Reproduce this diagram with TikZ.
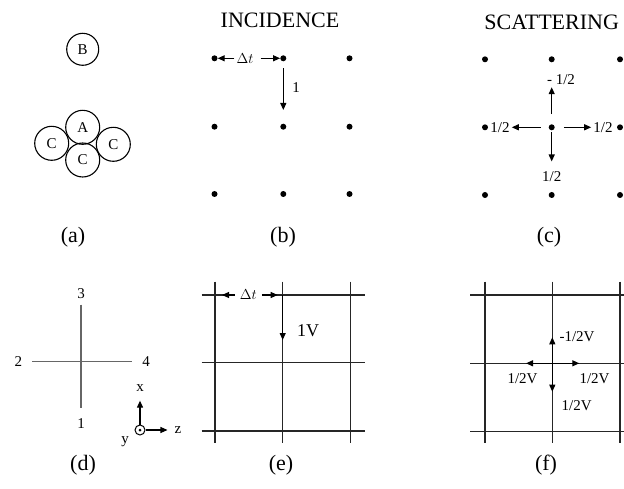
\documentclass[tikz,border=0pt]{standalone}
\usepackage{fontspec}
\setmainfont{Liberation Serif}
\usetikzlibrary{arrows.meta}
\newcommand\fsz[1]{\fontsize{#1}{#1}\selectfont}
\begin{document}
\begin{tikzpicture}[x=1pt,y=-1pt,
    dot/.style={circle,fill,inner sep=0pt,minimum size=6pt},
    atom/.style={circle,draw,line width=1.1pt,minimum size=34pt,inner sep=0pt,font=\fsz{15}},
    arr/.style={-{Triangle[length=7pt,width=6pt]},line width=1.1pt},
    lab/.style={inner sep=2pt,font=\fsz{15}},
    title/.style={font=\fsz{22}},
    panel/.style={font=\fsz{22}},
    gridline/.style={black!85,line width=1.4pt},
    crossline/.style={black!60,line width=1.6pt}]
    \useasboundingbox (0,0) rectangle (624,489);
    % panel captions
    \foreach \n/\x/\y in {a/73/237,b/283/237,c/549/237,d/83/465,e/281/465,f/546/465}
        \node[panel] (p\n) at (\x,\y) {(\n)};
    % (a) atoms
    \node[atom,minimum size=32pt] (B) at (82.7,49.3) {B};
    \node[atom] (A) at (82.7,127.3) {A};
    \node[atom] (Cl) at (51.7,143.3) {C};
    \node[atom] (Cr) at (113.3,144.3) {C};
    \node[atom] (Cb) at (82.7,160) {C};
    % (b) incidence
    \node[title] (tinc) at (280,20) {INCIDENCE};
    \foreach \i/\y in {1/58.3,2/126.7,3/194}
        \foreach \j/\x in {1/214.5,2/283.3,3/349.5}
            \node[dot] (b\i\j) at (\x,\y) {};
    \node[lab] (dtb) at (245,58.3) {$\Delta t$};
    \draw[arr] (dtb) -- (b11);
    \draw[arr,shorten <=5pt] (dtb) -- (b12);
    \coordinate (b1v) at (283.3,110);
    \draw[arr,shorten <=7pt] (b12) -- (b1v);
    \node[lab] (l1b) at (296,88) {1};
    % (c) scattering
    \node[title] (tsca) at (551.7,22.3) {SCATTERING};
    \foreach \i/\y in {1/59.3,2/127.3,3/195}
        \foreach \j/\x in {1/485,2/551.7,3/620}
            \node[dot] (c\i\j) at (\x,\y) {};
    \node[lab] (cu) at (561,80) {- 1/2};
    \node[lab] (cl) at (500,127.3) {1/2};
    \node[lab] (cr) at (603,127.3) {1/2};
    \node[lab] (cd) at (551.7,176.7) {1/2};
    \draw[arr,shorten <=10pt] (c22) -- (c22 |- cu.south);
    \draw[arr,shorten <=8pt] (c22) -- (cl);
    \draw[arr,shorten <=9pt] (c22) -- (cr);
    \draw[arr,shorten <=2pt,shorten >=8pt] (c22) -- (cd);
    % (d) node and axes
    \node[lab] (d3) at (81,293.3) {3};
    \node[lab] (d1) at (81,423.3) {1};
    \node[lab] (d2) at (18.3,361.7) {2};
    \node[lab] (d4) at (146,361.7) {4};
    \draw[crossline,shorten <=4pt,shorten >=8pt] (d3) -- (d1);
    \draw[crossline,line width=1.2pt,shorten <=8pt,shorten >=8pt] (d2) -- (d4);
    \node[circle,draw,line width=1pt,minimum size=10pt,inner sep=0pt] (o) at (140,430) {};
    \node[dot,minimum size=3pt] (od) at (o) {};
    \node[lab] (ax) at (140,388) {x};
    \node[lab] (az) at (178,430) {z};
    \node[lab] (ay) at (125,441.7) {y};
    \draw[arr,shorten >=7pt] (o) -- (ax);
    \draw[arr,shorten >=5pt] (o) -- (az);
    % (e) incidence on the mesh
    \foreach \y in {295,362.7,431}
        \draw[gridline] (201.7,\y) -- (365,\y);
    \foreach \x in {215,282.7,350.7}
        \draw[gridline] (\x,281.7) -- (\x,443.3);
    \coordinate (e11) at (215,295);
    \coordinate (e12) at (282.7,295);
    \node[lab,fill=white,inner xsep=5pt] (dte) at (248.3,295) {$\Delta t$};
    \draw[arr,shorten >=7pt] (dte) -- (e11);
    \draw[arr,shorten >=5pt] (dte) -- (e12);
    \coordinate (e1v) at (282.7,340);
    \draw[arr] (e12) -- (e1v);
    \node[lab,font=\fsz{18}] (l1v) at (308,331) {1V};
    % (f) scattering on the mesh
    \foreach \y in {295,363.3,431.7}
        \draw[gridline] (470,\y) -- (624,\y);
    \foreach \x in {485,552.3,620}
        \draw[gridline] (\x,281.7) -- (\x,443.3);
    \coordinate (f22) at (552.3,363.3);
    \coordinate (fu) at (552.3,337.3);
    \coordinate (fl) at (526,363.3);
    \coordinate (fr) at (579.3,363.3);
    \coordinate (fd) at (552.3,391.7);
    \foreach \t in {fu,fl,fr,fd}
        \draw[arr] (f22) -- (\t);
    \node[lab] (lfu) at (577,337) {-1/2V};
    \node[lab] (lfl) at (522.5,378.3) {1/2V};
    \node[lab] (lfr) at (594.5,378.3) {1/2V};
    \node[lab] (lfd) at (576.7,405.7) {1/2V};
\end{tikzpicture}
\end{document}
